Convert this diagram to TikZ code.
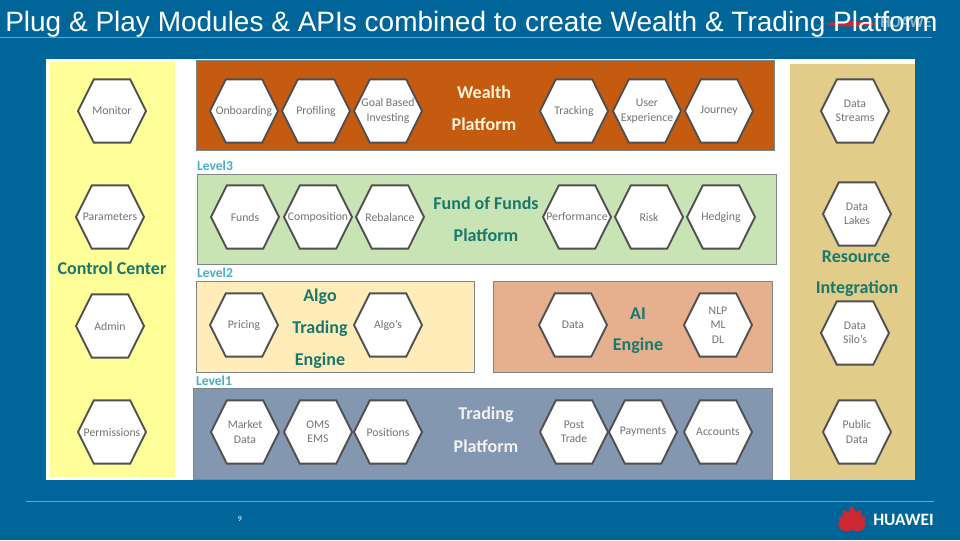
\documentclass[tikz,border=0pt]{standalone}
\usepackage{fontspec}
\setmainfont{Carlito}
\newfontfamily\titlefont{Liberation Sans}
\usetikzlibrary{shapes.symbols, positioning}
\definecolor{slideblue}{RGB}{0,102,153}
\definecolor{ruleblue}{RGB}{91,165,216}
\definecolor{wealthbrown}{RGB}{197,90,17}
\definecolor{fundgreen}{RGB}{200,228,180}
\definecolor{algocream}{RGB}{255,236,185}
\definecolor{aisalmon}{RGB}{230,176,143}
\definecolor{tradingslate}{RGB}{132,151,176}
\definecolor{controlyellow}{RGB}{255,255,153}
\definecolor{resourcesand}{RGB}{226,204,138}
\definecolor{hexgrey}{RGB}{80,80,80}
\definecolor{panelgrey}{RGB}{125,135,135}
\definecolor{labelteal}{RGB}{25,120,110}
\definecolor{levelblue}{RGB}{75,172,198}
\definecolor{logored}{RGB}{205,40,50}
\definecolor{cream}{RGB}{255,245,215}
\tikzset{
  hexbox/.style={draw=hexgrey, line width=1.4pt, fill=white, signal, signal to=east and west,
    signal pointer angle=127, minimum width=51pt, minimum height=47.5pt, inner sep=0pt, outer sep=0pt},
  hexlabel/.style={inner sep=0pt, align=center, text=black!55, font=\fontsize{8.8}{10.8}\selectfont},
  panel/.style={inner sep=0pt, anchor=north west},
  paneltext/.style={font=\bfseries\fontsize{13.5}{16}\selectfont, text=labelteal},
  levelmark/.style={font=\bfseries\fontsize{10.2}{12}\selectfont, text=levelblue}
}
\newcommand{\panelbox}[6]{% name, x, y, width, height, colour
  \node[panel, fill=#6, draw=panelgrey, line width=0.5pt, minimum width=#4*0.75pt, minimum height=#5*0.75pt] (#1) at (#2,#3) {};
}
\begin{document}
\begin{tikzpicture}[x=0.75pt, y=-0.75pt]
  \useasboundingbox[fill=slideblue] (0,0) rectangle (960,540);
  % logo behind the title
  \fill[logored] (852,24) ellipse [x radius=25, y radius=2.5];
  \node[font=\bfseries\fontsize{12}{14}\selectfont, text=white!50!slideblue, anchor=west, inner sep=0pt] (toplogo) at (880,22) {HUAWEI};
  % slide title
  \node[font=\titlefont\fontsize{21}{25}\selectfont, text=white, anchor=west, inner sep=0pt] (title) at (5,24)
    {Plug \& Play Modules \& APIs combined to create Wealth \& Trading Platform};
  \coordinate (ruleA) at (0,37);
  \coordinate (ruleB) at (932,37);
  \draw[ruleblue, line width=0.6pt] (ruleA) -- (ruleB);
  % white sheet
  \node[panel, fill=white, minimum width=869*0.75pt, minimum height=421*0.75pt] (sheet) at (46,59) {};
  % side bars and platform panels
  \node[panel, fill=controlyellow, minimum width=125*0.75pt, minimum height=415*0.75pt] (control) at (50,62) {};
  \node[panel, fill=resourcesand, minimum width=125*0.75pt, minimum height=416*0.75pt] (resource) at (790,64) {};
  \panelbox{wealth}{196}{60}{578}{90}{wealthbrown}
  \panelbox{fund}{197}{174}{579}{90}{fundgreen}
  \panelbox{algo}{196}{281}{278}{91}{algocream}
  \panelbox{ai}{493}{281}{279}{91}{aisalmon}
  \panelbox{trading}{193}{388}{579}{91}{tradingslate}
  % hexagons
  \foreach \hexname/\hexx/\hexy/\hextext in {
    monitor/112/111/Monitor, parameters/110/217/Parameters, admin/110/326/Admin, permissions/112/432/Permissions,
    onboarding/244/111/Onboarding, profiling/316/111/Profiling, goal/388/111/{Goal Based\\Investing},
    tracking/574/111/Tracking, userexp/647/111/{User\\Experience}, journey/719/111/Journey,
    funds/245/217/Funds, composition/318/217/Composition, rebalance/390/217/Rebalance,
    performance/577/217/Performance, risk/649/217/Risk, hedging/721/217/Hedging,
    pricing/244/325/Pricing, algos/388/325/Algo's, aidata/573/325/Data, nlp/718/325/{NLP\\ML\\DL},
    market/245/432/{Market\\Data}, oms/318/432/{OMS\\EMS}, positions/388/432/Positions,
    posttrade/574/432/{Post\\Trade}, payments/643/432/Payments, accounts/718/432/Accounts,
    streams/855/111/{Data\\Streams}, lakes/857/214/{Data\\Lakes}, silos/855/333/{Data\\Silo's}, public/857/432/{Public\\Data}}
    \node[hexbox, label={[hexlabel]center:{\hextext}}] (\hexname) at (\hexx,\hexy) {};
  % panel titles
  \node[paneltext, text=cream] (wealthA) at (484,92) {Wealth};
  \node[paneltext, text=cream] (wealthB) at (484,124) {Platform};
  \node[paneltext] (fundA) at (486,203) {Fund of Funds};
  \node[paneltext] (fundB) at (486,235) {Platform};
  \node[paneltext] (algoA) at (320,297) {Algo};
  \node[paneltext] (algoB) at (320,329) {Trading};
  \node[paneltext] (algoC) at (320,361) {Engine};
  \node[paneltext] (aiA) at (638,314) {AI};
  \node[paneltext] (aiB) at (638,346) {Engine};
  \node[paneltext, text=white!90!gray] (tradingA) at (486,415) {Trading};
  \node[paneltext, text=white!90!gray] (tradingB) at (486,446) {Platform};
  \node[paneltext] (controllabel) at (112,268) {Control Center};
  \node[paneltext] (resourceA) at (856,257) {Resource};
  \node[paneltext] (resourceB) at (857,289) {Integration};
  \node[levelmark] (level3) at (215,166) {Level3};
  \node[levelmark] (level2) at (215,273) {Level2};
  \node[levelmark] (level1) at (214,381) {Level1};
  % footer
  \coordinate (footA) at (26,501);
  \coordinate (footB) at (934,501);
  \draw[ruleblue, line width=0.6pt] (footA) -- (footB);
  \node[font=\fontsize{6}{7}\selectfont, text=white] (pageno) at (240,519) {9};
  \foreach \petalangle/\petallen in {-66/16,-44/19,-22/22,0/24,22/22,44/19,66/16}
    \fill[logored, shift={(852,530)}, rotate=\petalangle] (0,0) .. controls (-7,-8) and (-5,-\petallen+5) .. (0,-\petallen) .. controls (5,-\petallen+5) and (7,-8) .. (0,0);
  \node[font=\bfseries\fontsize{13}{15}\selectfont, text=white, anchor=west, inner sep=0pt] (logo) at (873,520) {HUAWEI};
\end{tikzpicture}
\end{document}
